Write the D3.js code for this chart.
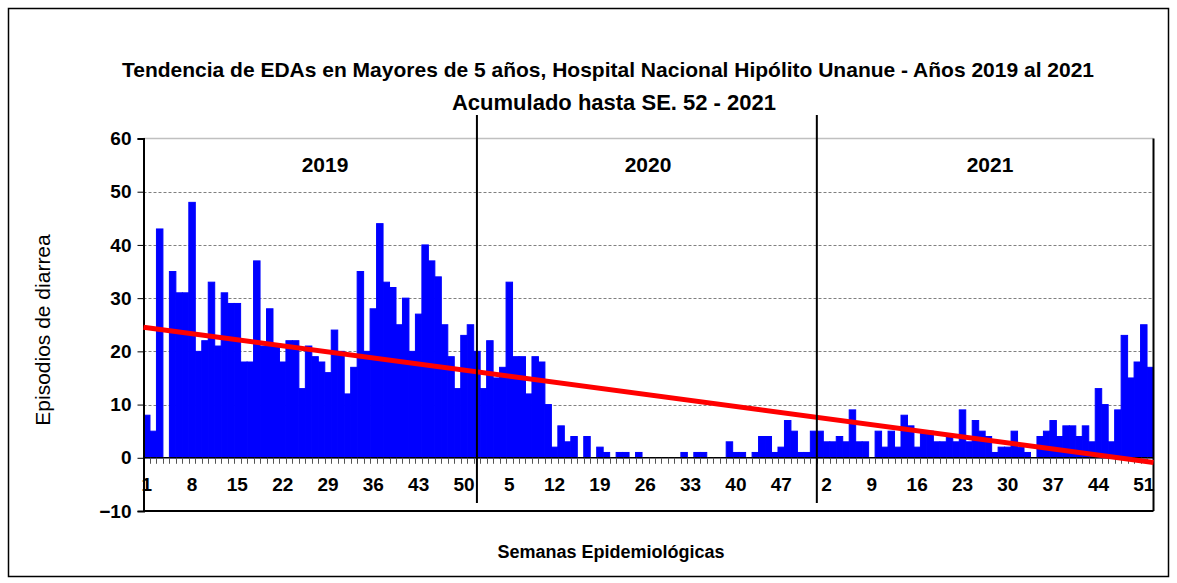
<html>
<head>
<meta http-equiv="Content-Type" content="text/html; charset=utf-8">
<title></title>
<style>
body{ margin:0; background:#fff; }
text{ font-family: "Liberation Sans", Arial, sans-serif; }
.bar{ fill:#0000ff; stroke:#0000ff; stroke-width:1px; }
.grid{ stroke:#808080; stroke-width:1px; stroke-dasharray:3,2; }
.trend{ fill:none; stroke:#ff0000; stroke-width:5px; }
</style>
<script src="https://cdnjs.cloudflare.com/ajax/libs/d3/7.8.5/d3.min.js" charset="utf-8"></script>
</head>
<body>
<div id="chart"></div>
<script>
// episodios semanales por año (SE 1..52)
var years = ['2019', '2020', '2021'];
var cases2019 = [8,5,43,0,35,31,31,48,20,22, 33,21,31,29,29,18,18,37,21,28,
	21,18,22,22,13,21,19,18,16,24, 20,12,17,35,20,28,44,33,32,25,
	30,20,27,40,37,34,25,19,13,23, 25,20];
var cases2020 = [13,22,15,17,33,19,19,12,19,18, 10,2,6,3,4,0,4,0,2,1,
	0,1,1,0,1,0,0,0,0,0, 0,1,0,1,1,0,0,0,3,1,
	1,0,1,4,4,1,2,7,5,1,1,5];
var cases2021 = [5,3,3,4,3,9,3,3,0,5, 2,5,2,8,6,2,5,5,3,3,
	4,3,9,3,7,5,4,1,2,2, 5,2,1,0,4,5,7,4,6,6,
	4,6,3,13,10,3,9,23,15,18, 25,17];
var yTicks = [-10, 0, 10, 20, 30, 40, 50, 60];

var data = [];
[cases2019, cases2020, cases2021].forEach(function(arr, i){
	arr.forEach(function(v, j){
		data.push({year: years[i], week: j + 1, key: years[i] + '-' + (j + 1), value: v});
	});
});

var width = 1177, height = 583;
var pl = 143.5, pr = 1153.5, pt = 138.5, pb = 511;

var x = d3.scaleBand().domain(data.map(function(d){ return d.key; })).range([pl, pr]).padding(0);
var xi = d3.scaleLinear().domain([-0.5, data.length - 0.5]).range([pl, pr]);
var y = d3.scaleLinear().domain([-10, 60]).range([pb, pt]);

var svg = d3.select('#chart').append('svg')
	.attr('width', width)
	.attr('height', height);

// marco exterior
svg.append('rect')
	.attr('x', 8.5).attr('y', 8.5)
	.attr('width', 1160).attr('height', 568)
	.attr('fill', 'none').attr('stroke', '#000').attr('stroke-width', 1.5);

// rejilla
svg.selectAll('.grid').data([10, 20, 30, 40, 50]).enter().append('line')
	.attr('class', 'grid')
	.attr('x1', pl).attr('x2', pr)
	.attr('y1', function(d){ return Math.round(y(d)) + 0.5; })
	.attr('y2', function(d){ return Math.round(y(d)) + 0.5; });
svg.append('line')
	.attr('x1', pl).attr('x2', pr).attr('y1', y(60)).attr('y2', y(60))
	.attr('stroke', '#c0c0c0').attr('stroke-width', 1.5);

// barras
svg.selectAll('.bar').data(data).enter().append('rect')
	.attr('class', 'bar')
	.attr('x', function(d){ return x(d.key); })
	.attr('width', x.bandwidth())
	.attr('y', function(d){ return y(d.value); })
	.attr('height', function(d){ return y(0) - y(d.value); });

// eje y
var yAxis = svg.append('g')
	.attr('transform', 'translate(' + pl + ',0)')
	.call(d3.axisLeft(y).tickValues(yTicks).tickSize(6).tickPadding(6).tickFormat(d3.format('d')));
yAxis.select('.domain').attr('stroke', '#000').attr('stroke-width', 2);
yAxis.selectAll('text').style('font-size', '19px').style('font-weight', 'bold').attr('fill', '#000');

// eje x en 0
svg.append('line')
	.attr('x1', pl).attr('x2', pr).attr('y1', y(0)).attr('y2', y(0))
	.attr('stroke', '#000').attr('stroke-width', 1.5);
svg.selectAll('.xtick').data(data.slice(1)).enter().append('line')
	.attr('x1', function(d){ return Math.round(x(d.key)) + 0.5; })
	.attr('x2', function(d){ return Math.round(x(d.key)) + 0.5; })
	.attr('y1', y(0)).attr('y2', y(0) + 6)
	.attr('stroke', '#555');
svg.selectAll('.xlab').data(data.filter(function(d, i){ return i % 7 === 0; })).enter().append('text')
	.attr('x', function(d){ return x(d.key) + x.bandwidth() / 2; })
	.attr('y', y(0) + 33)
	.attr('text-anchor', 'middle')
	.style('font-size', '19px').style('font-weight', 'bold')
	.text(function(d){ return d.week; });

// bordes derecho e inferior
svg.append('line').attr('x1', pl).attr('x2', pr).attr('y1', pb).attr('y2', pb)
	.attr('stroke', '#000').attr('stroke-width', 2);
svg.append('line').attr('x1', pr).attr('x2', pr).attr('y1', pt).attr('y2', pb)
	.attr('stroke', '#000').attr('stroke-width', 2);

// tendencia lineal (minimos cuadrados)
var n = data.length;
var mx = (n - 1) / 2;
var my = d3.mean(data, function(d){ return d.value; });
var sxy = d3.sum(data, function(d, i){ return (i - mx) * (d.value - my); });
var sxx = d3.sum(data, function(d, i){ return (i - mx) * (i - mx); });
var slope = sxy / sxx, icpt = my - slope * mx;
svg.append('path')
	.datum([-0.5, n - 0.5])
	.attr('class', 'trend')
	.attr('d', d3.line()
		.x(function(d){ return xi(d); })
		.y(function(d){ return y(icpt + slope * d); }));

// separadores de año
var seps = [xi(51), x('2021-1')];
svg.selectAll('.sep').data(seps).enter().append('line')
	.attr('x1', function(d){ return d; }).attr('x2', function(d){ return d; })
	.attr('y1', 115).attr('y2', 503)
	.attr('stroke', '#000').attr('stroke-width', 2);

// etiquetas de año
var yearX = [325, 648, 990];
svg.selectAll('.yr').data(years).enter().append('text')
	.attr('x', function(d, i){ return yearX[i]; })
	.attr('y', 172)
	.attr('text-anchor', 'middle')
	.style('font-size', '21px').style('font-weight', 'bold')
	.text(function(d){ return d; });

// titulos
svg.append('text').attr('x', 608).attr('y', 77).attr('text-anchor', 'middle')
	.style('font-size', '21px').style('font-weight', 'bold')
	.text('Tendencia de EDAs en Mayores de 5 años, Hospital Nacional Hipólito Unanue - Años 2019 al 2021');
svg.append('text').attr('x', 614).attr('y', 110).attr('text-anchor', 'middle')
	.style('font-size', '22px').style('font-weight', 'bold')
	.text('Acumulado hasta SE. 52 - 2021');
svg.append('text').attr('x', 611).attr('y', 558).attr('text-anchor', 'middle')
	.style('font-size', '18px').style('font-weight', 'bold')
	.text('Semanas Epidemiológicas');
svg.append('text')
	.attr('transform', 'translate(50,330) rotate(-90)')
	.attr('text-anchor', 'middle')
	.style('font-size', '21px')
	.text('Episodios de diarrea');
</script>
</body>
</html>
